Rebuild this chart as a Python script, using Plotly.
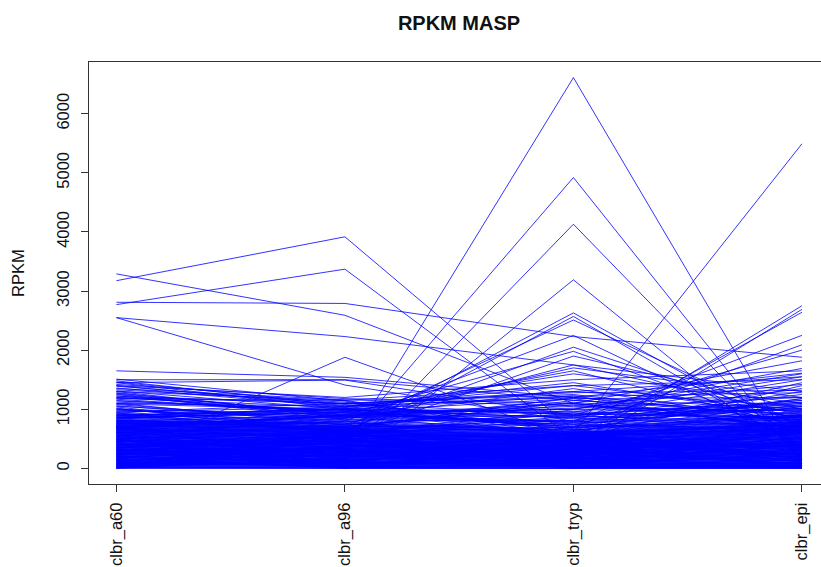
import plotly.graph_objects as go

samples = ["clbr_a60", "clbr_a96", "clbr_tryp", "clbr_epi"]

# ---- per-gene RPKM values, one list per sample (same gene order in each) ----
# notable high-expression genes
a60_hi = [3175, 3290, 2770, 2810, 2550, 2550, 1650, 200, 1500, 350, 250, 150, 100,
          400, 300, 500, 600, 450, 700, 350, 800, 550, 650, 900, 250, 700, 600, 500,
          800, 900, 1200, 1000, 850, 1100, 950, 1300, 1400, 1450]
a96_hi = [3917, 2590, 3370, 2790, 2230, 1410, 1540, 1880, 1500, 300, 440, 150, 50,
          600, 500, 700, 800, 650, 900, 550, 750, 850, 950, 1000, 300, 800, 700, 600,
          900, 1000, 1100, 900, 950, 1050, 1100, 1150, 1200, 1494]
tryp_hi = [650, 1100, 500, 2230, 1750, 800, 1200, 500, 1150, 6610, 4920, 4130, 3190,
           2630, 2570, 2510, 2250, 2050, 1980, 1900, 1750, 1700, 1650, 1600, 600, 400,
           300, 500, 800, 700, 900, 1100, 1000, 1200, 1300, 1400, 1500, 900]
epi_hi = [350, 700, 250, 1880, 1300, 600, 1000, 400, 900, 50, 80, 150, 50,
          500, 350, 700, 400, 800, 600, 1000, 900, 1200, 700, 1100, 5490, 2750,
          2690, 2640, 2250, 2090, 2000, 1820, 1690, 1610, 1550, 1500, 1650, 700]

# upper-mid expression genes
a60_up = [1150, 1220, 1300, 1180, 1360, 1250, 1420, 1120, 1480, 1280, 1330, 1200, 1450,
          1260, 1390, 1170, 1510, 1310, 1230, 1400, 1140, 1350, 1270, 1460, 1190]
a96_up = [950, 1100, 880, 1150, 1040, 820, 1180, 990, 1060, 900, 1120, 960, 1010,
          850, 1080, 930, 1140, 1000, 870, 1050, 980, 1160, 910, 1090, 1030]
tryp_up = [700, 1250, 900, 600, 1400, 800, 1100, 500, 1300, 950, 650, 1180, 850,
           1350, 750, 1000, 550, 1220, 880, 1450, 680, 1060, 780, 1280, 920]
epi_up = [1300, 800, 1150, 1450, 950, 1250, 700, 1400, 1050, 1550, 880, 1200, 1350,
          760, 1100, 1600, 980, 1280, 1500, 850, 1180, 1420, 1020, 1320, 1120]

# mid expression genes
a60_mid = [780, 920, 705, 1010, 850, 660, 1080, 745, 960, 890, 812, 1040, 690, 930,
           760, 870, 1100, 720, 985, 835, 905, 675, 1060, 795, 950, 730, 1020, 860,
           700, 975, 820, 1090, 755, 940, 680, 1000, 880, 770, 1050, 915]
a96_mid = [720, 640, 880, 700, 960, 590, 790, 860, 680, 1020, 750, 620, 900, 810,
           570, 980, 740, 660, 840, 1000, 600, 920, 770, 690, 1040, 830, 580, 940,
           710, 870, 650, 990, 780, 610, 890, 730, 1010, 670, 850, 760]
tryp_mid = [680, 850, 560, 1120, 730, 990, 610, 780, 1200, 540, 900, 700, 1050, 620,
            820, 960, 580, 1150, 750, 660, 880, 1000, 590, 770, 1230, 640, 940, 710,
            1080, 800, 550, 860, 1180, 690, 1020, 600, 920, 740, 1100, 650]
epi_mid = [900, 700, 1050, 820, 640, 980, 760, 1150, 870, 690, 1010, 780, 930, 620,
           1100, 850, 720, 960, 660, 1180, 800, 1040, 740, 890, 610, 1080, 830, 950,
           680, 1120, 770, 1000, 650, 910, 1200, 730, 860, 1060, 790, 940]

# low expression genes, scattered
a60_low = [312, 45, 587, 130, 8, 466, 251, 690, 73, 398, 540, 19, 205, 623, 347, 92,
           481, 166, 705, 27, 429, 284, 558, 112, 3, 371, 644, 238, 51, 512, 189, 677,
           330, 14, 455, 141, 598, 267, 81, 409, 726, 35, 222, 569, 302, 158, 491, 60,
           386, 632, 197, 11, 525, 274, 104, 440, 661, 320, 22, 176, 603, 359, 87, 503,
           236, 4, 417, 689, 125, 293, 547, 67, 382, 213, 615, 150, 471, 30, 341, 258]
a96_low = [58, 402, 213, 17, 560, 295, 133, 611, 380, 6, 247, 488, 91, 330, 640, 168,
           25, 452, 275, 519, 109, 39, 586, 351, 194, 12, 433, 264, 627, 75, 318, 508,
           147, 9, 395, 232, 570, 48, 287, 461, 120, 603, 342, 20, 178, 530, 256, 83,
           418, 655, 3, 367, 206, 541, 99, 30, 481, 309, 155, 594, 65, 443, 225, 14,
           372, 620, 186, 500, 40, 269, 410, 138, 552, 7, 325, 238, 470, 116, 585, 52]
tryp_low = [230, 14, 498, 361, 77, 152, 590, 41, 286, 437, 5, 205, 540, 118, 333, 611,
            62, 404, 260, 19, 475, 173, 92, 566, 308, 32, 389, 245, 521, 137, 8, 455,
            198, 603, 272, 55, 420, 345, 107, 580, 23, 290, 160, 507, 375, 70, 237, 618,
            128, 446, 3, 315, 212, 553, 84, 395, 47, 483, 266, 145, 598, 28, 352, 188,
            530, 98, 412, 10, 298, 463, 180, 36, 570, 250, 125, 385, 60, 510, 216, 325]
epi_low = [402, 66, 187, 620, 15, 531, 290, 110, 698, 240, 38, 455, 343, 9, 575, 160,
           412, 710, 88, 266, 500, 23, 385, 645, 132, 315, 48, 590, 211, 470, 4, 360,
           678, 98, 255, 545, 29, 423, 176, 608, 333, 72, 488, 226, 11, 660, 296, 140,
           395, 56, 520, 200, 725, 118, 445, 18, 350, 600, 81, 275, 562, 153, 430, 34,
           690, 245, 378, 6, 505, 168, 630, 95, 310, 460, 42, 585, 220, 370, 128, 540]

# low expression genes, steady across samples (the solid band)
a60_base = [0, 7, 16, 24, 31, 41, 49, 57, 66, 74, 83, 90, 99, 108, 116, 125, 133, 141,
            150, 158, 167, 176, 184, 192, 201, 210, 218, 227, 235, 243, 252, 261, 269,
            278, 286, 295, 303, 312, 320, 329, 338, 346, 354, 363, 372, 380, 389, 397,
            406, 414, 423, 432, 440, 449, 457, 466, 475, 483, 492, 500, 509, 518, 526,
            535, 543, 552, 561, 569, 578, 586, 595, 604, 612, 621, 630, 638, 647, 656,
            664, 673, 682, 690, 699, 708, 717, 726, 735, 744, 753, 762, 771, 780, 790,
            800, 811, 823, 836, 850, 866, 885]
a96_base = [3, 4, 10, 22, 25, 30, 44, 46, 52, 63, 66, 78, 80, 88, 99, 101, 113, 115,
            128, 129, 142, 144, 156, 158, 170, 172, 183, 190, 193, 204, 206, 219, 222,
            228, 240, 243, 250, 262, 264, 276, 278, 290, 292, 300, 311, 314, 325, 327,
            336, 346, 349, 360, 362, 374, 376, 385, 396, 398, 410, 412, 420, 432, 434,
            446, 448, 457, 468, 470, 482, 484, 492, 504, 506, 515, 520, 528, 538, 542,
            551, 556, 564, 572, 578, 586, 592, 600, 607, 614, 622, 630, 637, 645, 652,
            660, 670, 680, 692, 705, 720, 740]
tryp_base = [1, 9, 6, 18, 24, 27, 36, 38, 48, 50, 60, 62, 70, 79, 81, 92, 94, 104, 106,
             115, 120, 129, 131, 142, 145, 152, 160, 163, 172, 176, 183, 190, 195, 202,
             209, 214, 220, 228, 232, 240, 246, 252, 258, 265, 270, 277, 283, 289, 295,
             302, 306, 314, 318, 326, 331, 338, 343, 350, 355, 362, 367, 374, 379, 386,
             391, 398, 403, 410, 415, 422, 427, 434, 439, 446, 451, 458, 463, 470, 476,
             482, 488, 494, 500, 507, 512, 519, 525, 531, 538, 545, 552, 559, 566, 573,
             581, 590, 600, 612, 626, 645]
epi_base = [4, 2, 19, 21, 37, 35, 53, 58, 61, 78, 80, 96, 94, 112, 110, 128, 131, 146,
            144, 163, 161, 180, 182, 197, 199, 216, 214, 233, 236, 250, 252, 269, 267,
            286, 289, 303, 301, 320, 323, 337, 339, 356, 354, 373, 376, 390, 392, 409,
            407, 426, 429, 443, 445, 462, 460, 479, 482, 496, 498, 515, 513, 532, 535,
            549, 551, 568, 566, 585, 588, 602, 604, 621, 619, 638, 641, 655, 657, 674,
            672, 691, 694, 708, 710, 727, 725, 744, 747, 761, 763, 780, 782, 797, 800,
            815, 830, 845, 860, 875, 890, 905]

a60 = a60_base + a60_low + a60_mid + a60_up + a60_hi
a96 = a96_base + a96_low + a96_mid + a96_up + a96_hi
tryp = tryp_base + tryp_low + tryp_mid + tryp_up + tryp_hi
epi = epi_base + epi_low + epi_mid + epi_up + epi_hi

# ---- one line per gene (matplot style) ----
xpos = [1, 2, 3, 4]
fig = go.Figure()
for g in range(len(a60)):
    fig.add_trace(go.Scatter(x=xpos, y=[a60[g], a96[g], tryp[g], epi[g]],
                             mode="lines",
                             line=dict(color="rgba(0,0,255,0.8)", width=1),
                             hoverinfo="skip", showlegend=False))

font = "Liberation Sans, Arial, Helvetica, sans-serif"
axcol = "#333333"
txtcol = "#111111"
fig.update_layout(
    width=821, height=567,
    margin=dict(l=89, r=0, t=62, b=83),
    paper_bgcolor="white", plot_bgcolor="white",
    font=dict(family=font, size=16.5, color=txtcol),
    title=dict(text="<b>RPKM MASP</b>", font=dict(family=font, size=20, color=txtcol),
               x=459 / 821, xref="container", xanchor="center",
               y=1 - 23 / 567, yref="container", yanchor="middle"),
    xaxis=dict(range=[0.88, 0.88 + 732 / 228.5], tickmode="array", tickvals=xpos,
               ticktext=samples, tickangle=-90, ticks="outside", ticklen=7,
               tickcolor=axcol, showline=True, linecolor=axcol, linewidth=1,
               mirror=True, showgrid=False, zeroline=False, ticklabelstandoff=4),
    yaxis=dict(range=[-264, 6874], tickmode="array",
               tickvals=[0, 1000, 2000, 3000, 4000, 5000, 6000],
               ticktext=["0", "1000", "2000", "3000", "4000", "5000", "6000"],
               tickangle=-90, ticks="outside", ticklen=7, tickcolor=axcol,
               showline=True, linecolor=axcol, linewidth=1, mirror=False,
               showgrid=False, zeroline=False, ticklabelstandoff=5),
    annotations=[dict(text="RPKM", textangle=-90, x=(18 - 89) / 732, xref="paper",
                      y=0.5, yref="paper", showarrow=False, xanchor="center",
                      yanchor="middle", font=dict(family=font, size=16.5, color=txtcol))],
)

fig.write_html("out.html")
